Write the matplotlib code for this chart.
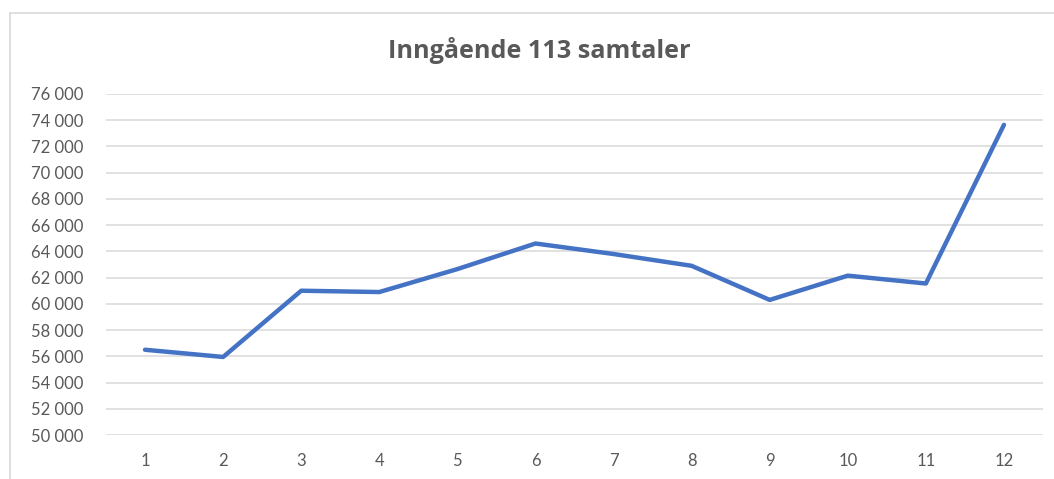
import matplotlib
matplotlib.use("Agg")
import matplotlib.pyplot as plt
from matplotlib.lines import Line2D

months = [1, 2, 3, 4, 5, 6, 7, 8, 9, 10, 11, 12]
calls = [56500, 55950, 61000, 60900, 62650, 64600, 63800, 62900, 60300, 62150, 61550, 73650]
yticks = list(range(50000, 76001, 2000))
title = "Inngående 113 samtaler"

plt.rcParams['font.family'] = ['Lato', 'DejaVu Sans']
W, H = 1054, 479
fig = plt.figure(figsize=(W / 100, H / 100), dpi=100)
fig.patch.set_facecolor('white')

# chart-area border (left and top visible)
fig.add_artist(Line2D([10 / W, 10 / W], [0, 1 - 13 / H], transform=fig.transFigure, color='#D9D9D9', lw=1.2))
fig.add_artist(Line2D([10 / W, 1], [1 - 13 / H, 1 - 13 / H], transform=fig.transFigure, color='#D9D9D9', lw=1.2))

ax = fig.add_axes([106 / W, 1 - 435 / H, (1043 - 106) / W, (435 - 94) / H])
ax.plot(months, calls, color='#4472C4', lw=3.2, solid_capstyle='round', solid_joinstyle='round', zorder=3)
ax.set_xlim(0.5, 12.5)
ax.set_ylim(50000, 76000)
ax.set_yticks(yticks)
ax.set_yticklabels([f"{v:,}".replace(",", " ") for v in yticks])
ax.set_xticks(months)
ax.set_xticklabels([str(m) for m in months])
ax.grid(axis='y', color='#D9D9D9', lw=1.1)
ax.set_axisbelow(True)
for s in ax.spines.values():
    s.set_visible(False)
ax.tick_params(axis='both', length=0, labelsize=12, colors='#595959')
ax.tick_params(axis='y', pad=16)
ax.tick_params(axis='x', pad=13)

fig.text(539 / W, 1 - 50 / H, title, ha='center', va='center', fontsize=18.2,
         fontweight='bold', color='#595959', family=['Open Sans', 'DejaVu Sans'])

fig.savefig('out.png', dpi=100, facecolor='white')
